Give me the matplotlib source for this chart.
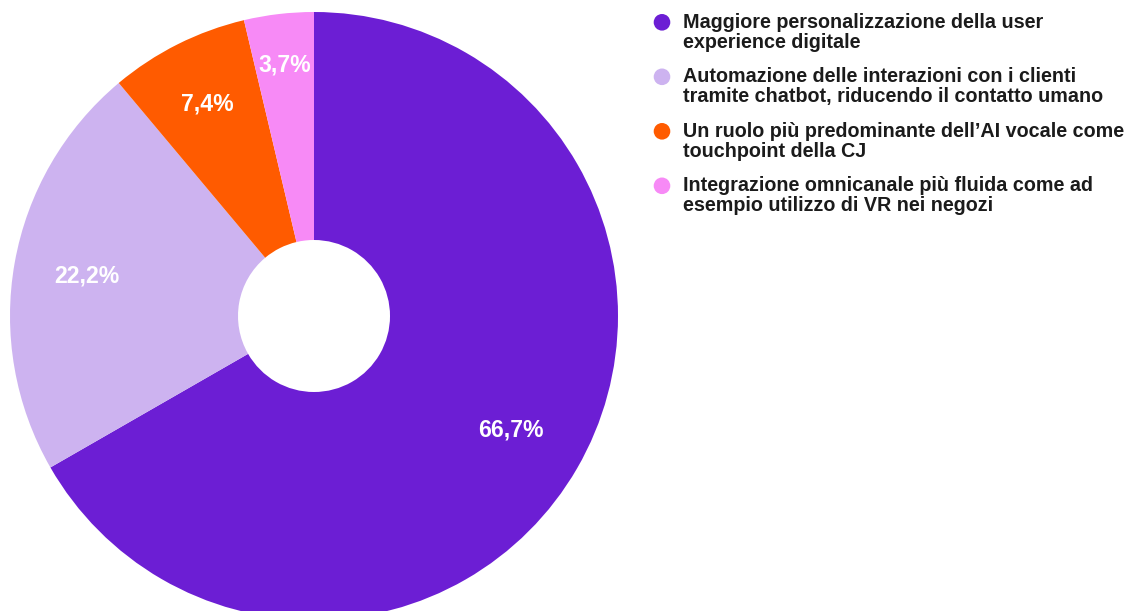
import matplotlib
matplotlib.use("Agg")
import matplotlib.pyplot as plt
import numpy as np
from matplotlib.patches import Circle
from matplotlib.transforms import IdentityTransform

plt.rcParams['font.family'] = ['Liberation Sans', 'DejaVu Sans']

categories = [
    "Maggiore personalizzazione della user\nexperience digitale",
    "Automazione delle interazioni con i clienti\ntramite chatbot, riducendo il contatto umano",
    "Un ruolo più predominante dell’AI vocale come\ntouchpoint della CJ",
    "Integrazione omnicanale più fluida come ad\nesempio utilizzo di VR nei negozi",
]
values = [66.7, 22.2, 7.4, 3.7]
value_labels = ["66,7%", "22,2%", "7,4%", "3,7%"]
colors = ["#6C1ED4", "#CDB3F0", "#FF5B00", "#F78AF6"]

# radial placement of the percentage labels (fraction of radius)
label_radii = [0.75, 0.76, 0.78, 0.83]

W, H = 1133, 611
fig = plt.figure(figsize=(W / 100, H / 100), dpi=100)

# Donut axes: centre (314, 316) px from top-left, radius 304 px
cx, cy, r = 314, 316, 304
ax = fig.add_axes([(cx - r) / W, (H - cy - r) / H, 2 * r / W, 2 * r / H])

wedges, _ = ax.pie(
    values, colors=colors, startangle=90, counterclock=False,
    radius=1, wedgeprops=dict(width=0.75, linewidth=0),
)
ax.set_xlim(-1, 1)
ax.set_ylim(-1, 1)
ax.set_aspect('equal')
ax.axis('off')
for w, lab, rr in zip(wedges, value_labels, label_radii):
    w.set_clip_on(False)
    mid = np.deg2rad((w.theta1 + w.theta2) / 2)
    ax.text(rr * np.cos(mid), rr * np.sin(mid), lab, color='white',
            fontsize=16.6, fontweight='bold', ha='center', va='center')

# Legend drawn manually on the figure (pixel coordinates)
marker_x = 662
text_x = 683
first_baseline = 27.3
step = 54.5
for i, (label, col) in enumerate(zip(categories, colors)):
    base = first_baseline + i * step
    fig.add_artist(Circle((marker_x, H - (base - 5)), 8.3,
                          transform=IdentityTransform(), color=col,
                          linewidth=0))
    fig.text(text_x / W, 1 - (base - 14.5) / H, label, fontsize=14.2,
             fontweight='bold', color='#1b1b1b', ha='left', va='top',
             linespacing=1.07)

fig.savefig("out.png", dpi=100, facecolor='white')
